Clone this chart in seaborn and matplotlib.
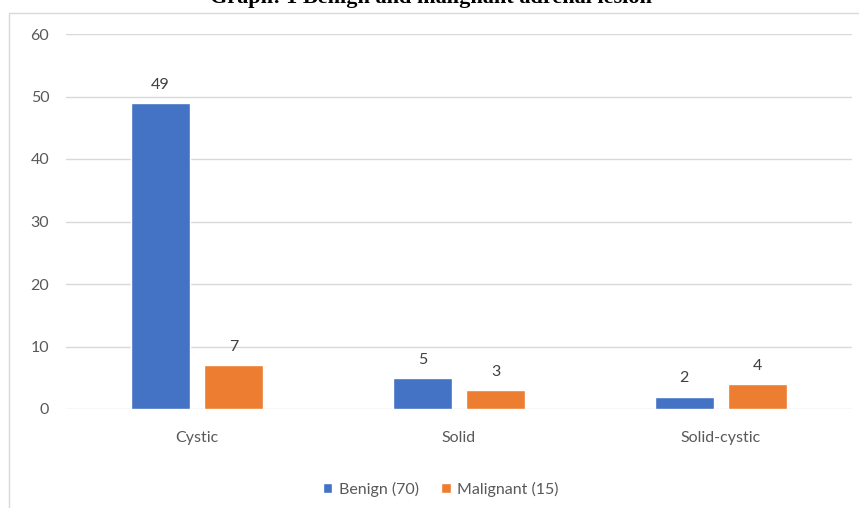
import matplotlib
matplotlib.use("Agg")
import matplotlib.pyplot as plt
import seaborn as sns
import pandas as pd
from matplotlib.patches import Rectangle

categories = ["Cystic", "Solid", "Solid-cystic"]
series_names = ["Benign (70)", "Malignant (15)"]
benign = [49, 5, 2]
malignant = [7, 3, 4]
y_ticks = [0, 10, 20, 30, 40, 50, 60]
title = "Graph: 1 Benign and malignant adrenal lesion"

df = pd.DataFrame({
    "category": categories * 2,
    "series": [series_names[0]] * 3 + [series_names[1]] * 3,
    "value": benign + malignant,
})

sns.set_theme(style="white")
plt.rcParams['font.family'] = ['Lato', 'DejaVu Sans']

W, H = 859, 508
FS = 11.5
fig = plt.figure(figsize=(W / 100, H / 100), dpi=100)
ax = fig.add_axes([66 / W, 1 - 409 / H, (852 - 66) / W, (409 - 34) / H])

# chart frame
fig.patches.append(Rectangle((9 / W, -0.1), 1.0, 1 - 13 / H + 0.1, transform=fig.transFigure,
                             fill=False, edgecolor="#D9D9D9", linewidth=1.0, zorder=0))

sns.barplot(data=df, x="category", y="value", hue="series", order=categories,
            hue_order=series_names, palette=["#4472C4", "#ED7D31"],
            width=0.56, gap=0.2, ax=ax, saturation=1, legend=True)

for cont in ax.containers:
    ax.bar_label(cont, padding=8, fontsize=FS, color="#404040")

ax.set_ylim(0, 60)
ax.set_xlim(-0.5, 2.5)
ax.set_yticks(y_ticks)
ax.yaxis.grid(True, color="#D9D9D9", linewidth=1.0)
ax.set_axisbelow(True)
for s in ax.spines.values():
    s.set_visible(False)
ax.set_xlabel("")
ax.set_ylabel("")
ax.tick_params(axis="y", length=0, pad=12, labelsize=FS, labelcolor="#595959")
ax.tick_params(axis="x", length=0, pad=16, labelsize=FS, labelcolor="#595959")

leg = ax.legend(loc="center", bbox_to_anchor=(0.513, 1 - 489 / H), bbox_transform=fig.transFigure,
                ncol=2, frameon=False, fontsize=FS, handlelength=0.6, handleheight=0.6,
                handletextpad=0.4, columnspacing=1.4)
for t in leg.get_texts():
    t.set_color("#595959")

fig.text(0.502, 1 - 3 / H, title, ha="center", va="baseline", fontsize=16,
         fontweight="bold", family=["Liberation Serif", "DejaVu Serif"], color="black")

fig.savefig("out.png", dpi=100)
